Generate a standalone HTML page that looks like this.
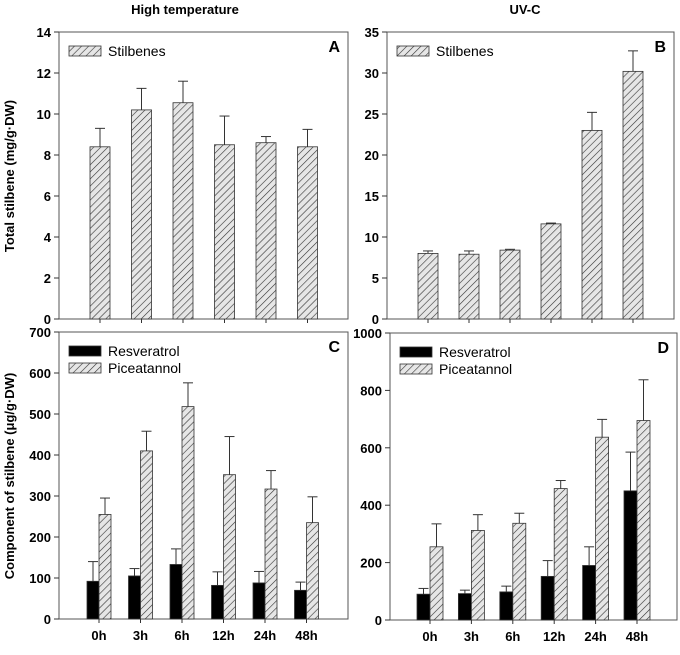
<!DOCTYPE html>
<html><head><meta charset="utf-8"><style>
body{margin:0;background:#fff;}
svg text{font-family:"Liberation Sans",Arial,sans-serif;}
</style></head><body>
<svg id="c" width="680" height="650" xmlns="http://www.w3.org/2000/svg">
<defs>
<pattern id="hatch" width="5" height="5" patternUnits="userSpaceOnUse" patternTransform="rotate(45)">
<rect width="5" height="5" fill="#e6e6e6"/><line x1="0" y1="0" x2="0" y2="5" stroke="#333" stroke-width="1.2"/>
</pattern>
</defs>
<text x="185" y="14" text-anchor="middle" font-size="13" font-weight="bold">High temperature</text>
<text x="525" y="14" text-anchor="middle" font-size="13" font-weight="bold">UV-C</text>
<text transform="translate(14,176) rotate(-90)" text-anchor="middle" font-size="13" font-weight="bold">Total stilbene (mg/g·DW)</text>
<text transform="translate(14,476) rotate(-90)" text-anchor="middle" font-size="13" font-weight="bold">Component of stilbene (μg/g·DW)</text>
</svg>
<script>
const categories=["0h","3h","6h","12h","24h","48h"];
const aVals=[8.4,10.2,10.55,8.5,8.6,8.4];
const aErr=[0.9,1.05,1.05,1.4,0.3,0.85];
const bVals=[8.0,7.9,8.4,11.6,23.0,30.2];
const bErr=[0.3,0.4,0.1,0.1,2.2,2.5];
const cRes=[92,105,133,82,88,70];
const cResErr=[48,18,38,33,28,20];
const cPic=[255,410,518,352,317,235];
const cPicErr=[40,48,58,93,45,63];
const dRes=[90,92,98,152,190,450];
const dResErr=[20,12,20,55,65,135];
const dPic=[255,312,337,458,637,695];
const dPicErr=[80,55,35,28,62,142];
const aTicks=[0,2,4,6,8,10,12,14];
const bTicks=[0,5,10,15,20,25,30,35];
const cTicks=[0,100,200,300,400,500,600,700];
const dTicks=[0,200,400,600,800,1000];

const svg=document.getElementById('c');
const NS='http://www.w3.org/2000/svg';
function el(tag,attrs,parent){const e=document.createElementNS(NS,tag);for(const k in attrs)e.setAttribute(k,attrs[k]);(parent||svg).appendChild(e);return e;}

function panel(p){
  const g=el('g',{});
  
  
  const ymax=p.ticks[p.ticks.length-1];
  const y=v=>p.y1-(v/ymax)*(p.y1-p.y0);
  const xc=i=>p.cx0+p.step*i;
  const box=el('rect',{x:p.x0,y:p.y0,width:p.x1-p.x0,height:p.y1-p.y0,fill:'none',stroke:'#555','stroke-width':1},g);
  
  
  p.ticks.forEach(t=>{
    el('line',{x1:p.x0-5,x2:p.x0,y1:y(t),y2:y(t),stroke:'#333'},g);
    const tx=el('text',{x:p.x0-8,y:y(t)+5,'text-anchor':'end','font-size':13,'font-weight':'bold'},g);
    tx.textContent=t;
    
    
  });
  categories.forEach((c,i)=>{
    el('line',{x1:xc(i),x2:xc(i),y1:p.y1,y2:p.y1+4,stroke:'#333'},g);
    if(p.xlabels){
      const tx=el('text',{x:xc(i),y:p.y1+21,'text-anchor':'middle','font-size':13,'font-weight':'bold'},g);
      tx.textContent=c;
      
      
    }
  });
  const series=p.series;
  const n=series.length;
  series.forEach((s,si)=>{
    s.vals.forEach((v,i)=>{
      const left=xc(i)-p.bw*n/2+si*p.bw;
      const mid=left+p.bw/2;
      const top=y(v+s.err[i]);
      el('line',{x1:mid,x2:mid,y1:y(v),y2:top,stroke:'#333'},g);
      el('line',{x1:mid-5,x2:mid+5,y1:top,y2:top,stroke:'#333'},g);
      const r=el('rect',{x:left,y:y(v),width:p.bw,height:p.y1-y(v),fill:s.fill,stroke:'#333','stroke-width':0.8},g);
      
      
    });
  });
  series.forEach((s,si)=>{
    const ly=p.y0+14+si*17;
    const lr=el('rect',{x:p.x0+10,y:ly,width:32,height:10,fill:s.fill,stroke:'#333','stroke-width':0.8},g);
    
    
    const lt=el('text',{x:p.x0+49,y:ly+10,'font-size':14},g);
    lt.textContent=s.label;
    
    
  });
  const L=el('text',{x:p.x1-8,y:p.y0+20,'text-anchor':'end','font-size':16,'font-weight':'bold'},g);
  L.textContent=p.letter;
  
  
}
panel({letter:'A',x0:59,x1:348,y0:32,y1:319,cx0:100,step:41.5,ticks:aTicks,bw:20,xlabels:false,
  series:[{key:'stilbenes',label:'Stilbenes',vals:aVals,err:aErr,fill:'url(#hatch)'}]});
panel({letter:'B',x0:387,x1:674,y0:32,y1:319,cx0:428,step:41,ticks:bTicks,bw:20,xlabels:false,
  series:[{key:'stilbenes-uv',label:'Stilbenes',vals:bVals,err:bErr,fill:'url(#hatch)'}]});
panel({letter:'C',x0:59,x1:348,y0:332,y1:619,cx0:99,step:41.5,ticks:cTicks,bw:12,xlabels:true,
  series:[{key:'resveratrol',label:'Resveratrol',vals:cRes,err:cResErr,fill:'#000'},
          {key:'piceatannol',label:'Piceatannol',vals:cPic,err:cPicErr,fill:'url(#hatch)'}]});
panel({letter:'D',x0:390,x1:677,y0:333,y1:620,cx0:430,step:41.4,ticks:dTicks,bw:13,xlabels:true,
  series:[{key:'resveratrol-uv',label:'Resveratrol',vals:dRes,err:dResErr,fill:'#000'},
          {key:'piceatannol-uv',label:'Piceatannol',vals:dPic,err:dPicErr,fill:'url(#hatch)'}]});
</script>
</body></html>
